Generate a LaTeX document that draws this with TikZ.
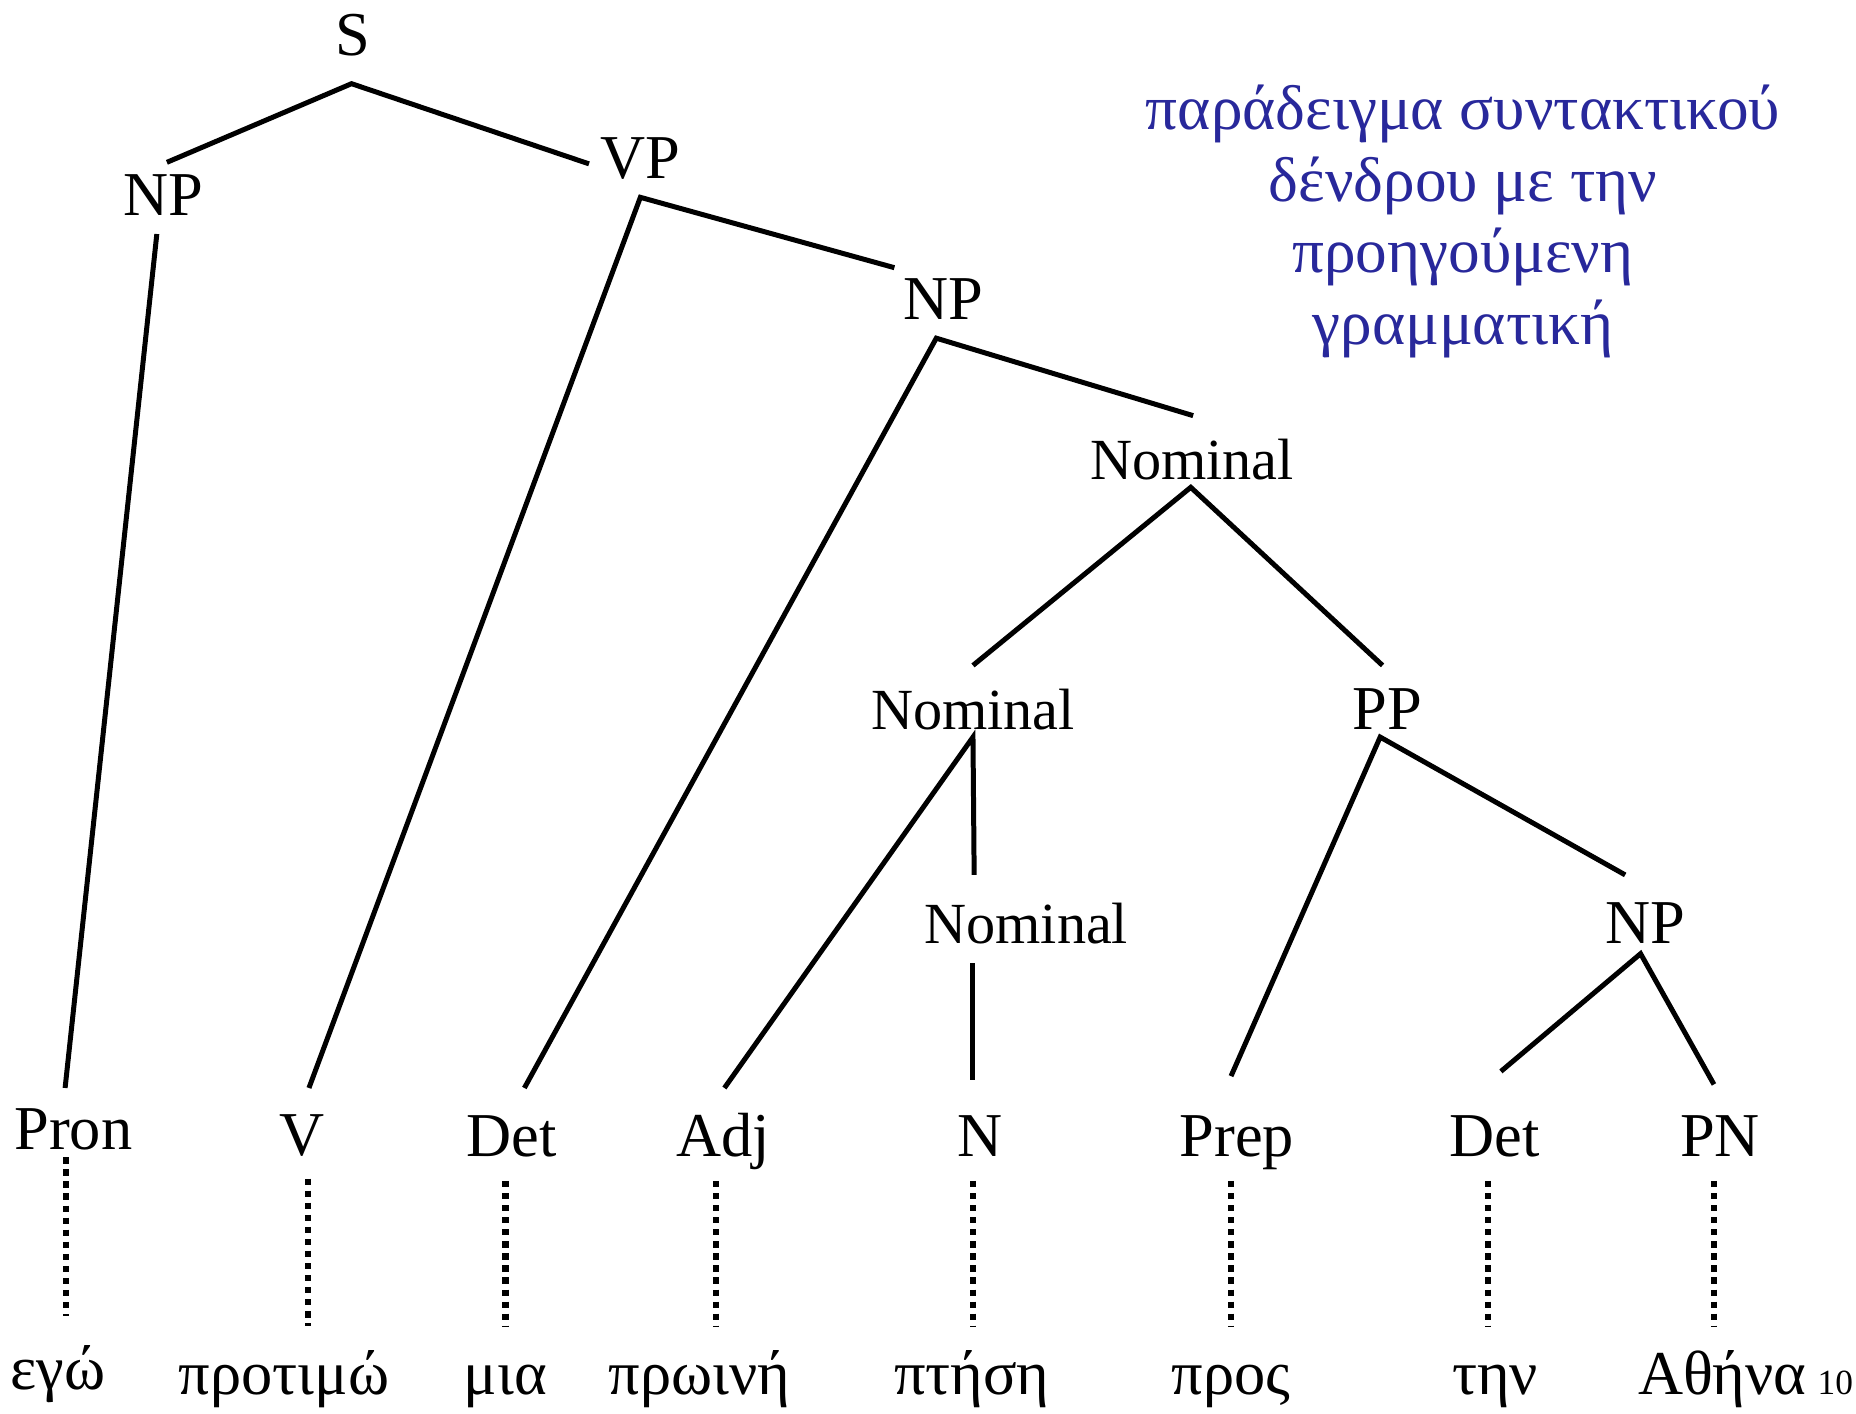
\documentclass[tikz,border=0pt]{standalone}
\usepackage{fontspec}
\setmainfont{Liberation Serif}
\usetikzlibrary{calc}
\definecolor{notecolor}{RGB}{40,40,155}
\tikzset{
  cat/.style={anchor=base, inner sep=0pt, text height=10pt, text depth=0pt, font=\fontsize{15}{18}\selectfont},
  nomcat/.style={cat, font=\fontsize{14}{17}\selectfont},
  word/.style={cat},
  branch/.style={line width=1.2pt},
  leaf/.style={line width=1.5pt, dash pattern=on 1.5pt off 1.4pt},
  note/.style={anchor=north, inner sep=0pt, align=center, text=notecolor, font=\fontsize{15.2}{17.2}\selectfont},
}
\begin{document}
\begin{tikzpicture}[x=0.1mm, y=-0.1mm]
  \useasboundingbox (0,0) rectangle (1568,1194);

  % phrase level
  \node[cat] (s) at (298,47) {S};
  \node[cat] (np1) at (138,182) {NP};
  \node[cat] (vp) at (541,151) {VP};
  \node[cat] (np2) at (797,270) {NP};
  \node[nomcat] (nom1) at (1007,405) {Nominal};
  \node[nomcat] (nom2) at (822,616) {Nominal};
  \node[cat] (pp) at (1172,616) {PP};
  \node[nomcat] (nom3) at (867,797) {Nominal};
  \node[cat] (np3) at (1390,797) {NP};

  % parts of speech
  \node[cat] (pron) at (62,971) {Pron};
  \node[cat] (v) at (255,976) {V};
  \node[cat] (det1) at (432,977) {Det};
  \node[cat] (adj) at (611,977) {Adj};
  \node[cat] (n) at (828,977) {N};
  \node[cat] (prep) at (1045,977) {Prep};
  \node[cat] (det2) at (1263,977) {Det};
  \node[cat] (pn) at (1453,977) {PN};

  % the sentence
  \node[word] (ego) at (49,1174) {εγώ};
  \node[word] (protimo) at (240,1178) {προτιμώ};
  \node[word] (mia) at (427,1178) {μια};
  \node[word] (proini) at (591,1178) {πρωινή};
  \node[word] (ptisi) at (821,1178) {πτήση};
  \node[word] (pros) at (1040,1178) {προς};
  \node[word] (tin) at (1263,1178) {την};
  \node[word] (athina) at (1455,1178) {Αθήνα};
  \node[anchor=base west, inner sep=0pt, font=\fontsize{8.5}{10}\selectfont] (slideno) at ($(athina.base east)+(8,0)$) {10};

  \node[note] (caption) at (1236,71) {παράδειγμα συντακτικού\\δένδρου με την\\προηγούμενη\\γραμματική};

  % branches
  \draw[branch] ($(np1.north)+(3,-9)$) -- ($(s.south)+(-1,23)$) -- ($(vp.west)+(-9,5)$);
  \draw[branch] ($(np1.south)+(-5.5,15)$) -- ($(pron.north)+(-7,-16)$);
  \draw[branch] ($(v.north)+(6,-21)$) -- ($(vp.south)+(0,15)$) -- ($(np2.north west)+(-7,-8)$);
  \draw[branch] ($(det1.north)+(11,-22)$) -- ($(np2.south)+(-6,15)$) -- ($(nom1.north)+(1,-18)$);
  \draw[branch] ($(nom2.north)+(0,-18)$) -- ($(nom1.south)+(-1,6)$) -- ($(pp.north)+(-4,-18)$);
  \draw[branch] ($(adj.north)+(1,-22)$) -- ($(nom2.south)+(0,6)$) -- ($(nom3.north)+(-44,-22)$);
  \draw[branch] ($(nom3.south)+(-45,16)$) -- ($(n.north)+(-6,-29)$);
  \draw[branch] ($(prep.north)+(-5,-32)$) -- ($(pp.south)+(-6,6)$) -- ($(np3.north)+(-17,-22)$);
  \draw[branch] ($(det2.north)+(5,-36)$) -- ($(np3.south)+(-4,8)$) -- ($(pn.north)+(-5,-25)$);

  % lexical links
  \foreach \c/\w/\dc/\yc/\dw/\yw in {pron/ego/-6/6/7/-26, v/protimo/5/19/20/-22,
      det1/mia/-5/20/0/-22, adj/proini/-6/20/14/-22, n/ptisi/-6/20/1/-22,
      prep/pros/-5/20/0/-22, det2/tin/-6/20/-6/-22, pn/athina/-5/20/-7/-22}
    \draw[leaf] ($(\c.south)+(\dc,\yc)$) -- ($(\w.north)+(\dw,\yw)$);
\end{tikzpicture}
\end{document}
